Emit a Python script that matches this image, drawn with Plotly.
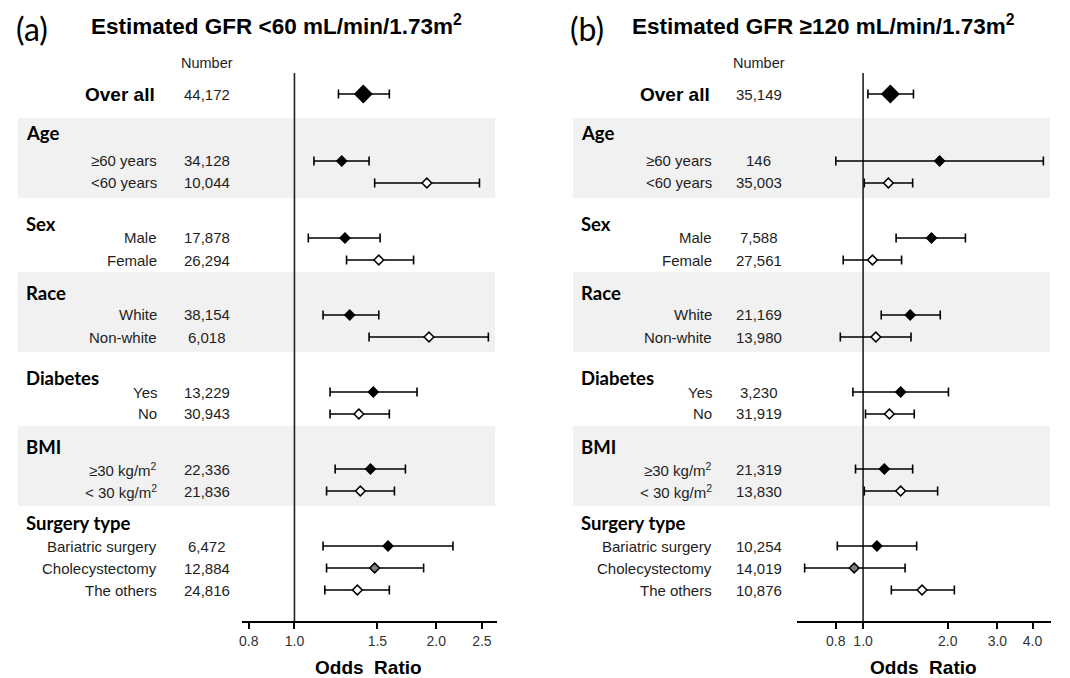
import plotly.graph_objects as go

W, H = 1070, 678

# ---------------- data ----------------
row_labels = ["Over all", "≥60 years", "<60 years", "Male", "Female", "White", "Non-white",
              "Yes", "No", "≥30 kg/m<sup>2</sup>", "< 30 kg/m<sup>2</sup>",
              "Bariatric surgery", "Cholecystectomy", "The others"]
group_names = ["Age", "Sex", "Race", "Diabetes", "BMI", "Surgery type"]
group_sizes = [2, 2, 2, 2, 2, 3]

n_a = ["44,172", "34,128", "10,044", "17,878", "26,294", "38,154", "6,018",
       "13,229", "30,943", "22,336", "21,836", "6,472", "12,884", "24,816"]
or_a = [1.40, 1.26, 1.91, 1.28, 1.51, 1.31, 1.93, 1.47, 1.37, 1.45, 1.38, 1.58, 1.48, 1.36]
lo_a = [1.24, 1.10, 1.48, 1.07, 1.29, 1.15, 1.44, 1.19, 1.19, 1.22, 1.17, 1.15, 1.17, 1.16]
hi_a = [1.59, 1.44, 2.47, 1.52, 1.79, 1.51, 2.58, 1.82, 1.59, 1.72, 1.63, 2.17, 1.88, 1.59]

n_b = ["35,149", "146", "35,003", "7,588", "27,561", "21,169", "13,980",
       "3,230", "31,919", "21,319", "13,830", "10,254", "14,019", "10,876"]
or_b = [1.25, 1.87, 1.23, 1.75, 1.08, 1.47, 1.11, 1.36, 1.24, 1.19, 1.36, 1.12, 0.93, 1.62]
lo_b = [1.04, 0.80, 1.01, 1.31, 0.85, 1.16, 0.83, 0.92, 1.02, 0.94, 1.01, 0.81, 0.62, 1.26]
hi_b = [1.51, 4.37, 1.50, 2.31, 1.37, 1.88, 1.48, 2.01, 1.52, 1.50, 1.84, 1.55, 1.41, 2.11]

ticks_a = [0.8, 1.0, 1.5, 2.0, 2.5]
ticks_b = [0.8, 1.0, 2.0, 3.0, 4.0]
tick_text_a = ["0.8", "1.0", "1.5", "2.0", "2.5"]
tick_text_b = ["0.8", "1.0", "2.0", "3.0", "4.0"]

titles = ["Estimated GFR <60 mL/min/1.73m<sup>2</sup>", "Estimated GFR ≥120 mL/min/1.73m<sup>2</sup>"]
panel_tags = ["(a)", "(b)"]

# ---------------- layout (pixel geometry) ----------------
OVERALL_Y = 94
FIRST_ITEM_Y = 161
ITEM_STEP = 22
GROUP_GAP = 55
HEADER_OFFSETS = [28, 14, 22, 14, 22, 23]
Y_TOP, Y_AXIS = 73, 621

row_y = [OVERALL_Y]
header_y = []
group_spans = []
y = FIRST_ITEM_Y
for gi, size in enumerate(group_sizes):
    header_y.append(y - HEADER_OFFSETS[gi])
    first = y
    for k in range(size):
        row_y.append(y)
        if k < size - 1:
            y += ITEM_STEP
    group_spans.append((first, y))
    y += GROUP_GAP

fills = ["black"]
for size in group_sizes:
    if size == 2:
        fills += ["black", "white"]
    else:
        fills += ["black", "#7f7f7f", "white"]
sizes = [13] + [7.5] * (len(row_labels) - 1)

panels = [
    dict(n=n_a, orv=or_a, lo=lo_a, hi=hi_a, ticks=ticks_a, ttext=tick_text_a,
         ax_px=(240, 496), one_px=293, per_dec=472, label_right=157, num_c=205,
         header_x=22, band_x=(16, 494), tag_x=12, title_x=87, or_label_x=367),
    dict(n=n_b, orv=or_b, lo=lo_b, hi=hi_b, ticks=ticks_b, ttext=tick_text_b,
         ax_px=(796, 1051), one_px=862.7, per_dec=282, label_right=713, num_c=758,
         header_x=578, band_x=(572, 1050), tag_x=567, title_x=629, or_label_x=923),
]

def px(xp):
    return xp / W

def py(yp):
    return 1 - yp / H

fig = go.Figure()
shapes = []
annotations = []

TXT = "#1e1e1e"
REG = "Liberation Sans, Arial, sans-serif"
HEAD = "Lato, Liberation Sans, sans-serif"

for i, p in enumerate(panels):
    sfx = "" if i == 0 else "2"
    xa, ya = "x" + sfx, "y" + sfx
    fig.add_trace(go.Scatter(
        x=p["orv"], y=row_y, mode="markers", xaxis=xa, yaxis=ya,
        marker=dict(symbol="diamond", size=sizes, color=fills,
                    line=dict(color="black", width=1.5), opacity=1),
        error_x=dict(type="data", symmetric=False,
                     array=[h - o for h, o in zip(p["hi"], p["orv"])],
                     arrayminus=[o - l for o, l in zip(p["orv"], p["lo"])],
                     color="black", thickness=1.6, width=4.5),
        showlegend=False, hoverinfo="skip", cliponaxis=False,
    ))
    l_px, r_px = p["ax_px"]
    rng = [(l_px - p["one_px"]) / p["per_dec"], (r_px - p["one_px"]) / p["per_dec"]]
    xaxis = dict(type="log", range=rng, domain=[px(l_px), px(r_px)], anchor=ya,
                 showgrid=False, zeroline=False, showline=True, linecolor="black",
                 linewidth=2, ticks="outside", ticklen=6, tickwidth=1.5, tickcolor="black",
                 tickvals=p["ticks"], ticktext=p["ttext"],
                 tickfont=dict(family=REG, size=14, color="#333333"), fixedrange=True)
    yaxis = dict(range=[Y_AXIS, Y_TOP], domain=[py(Y_AXIS), py(Y_TOP)], anchor=xa,
                 visible=False, fixedrange=True)
    fig.update_layout(**{"xaxis" + sfx: xaxis, "yaxis" + sfx: yaxis})

    for gi, (y0, y1) in enumerate(group_spans):
        if gi % 2 == 0:
            shapes.append(dict(type="rect", xref="paper", yref="paper",
                               x0=px(p["band_x"][0]), x1=px(p["band_x"][1]),
                               y0=py(y0 - 43), y1=py(y1 + 15),
                               fillcolor="#f1f1f1", line=dict(width=0), layer="below"))
    shapes.append(dict(type="line", xref=xa, yref=ya, x0=1, x1=1, y0=Y_TOP, y1=Y_AXIS,
                       line=dict(color="#222222", width=1.6), layer="below"))

    annotations.append(dict(text=panel_tags[i], xref="paper", yref="paper",
                            x=px(p["tag_x"]), y=py(29), xanchor="left", yanchor="middle",
                            showarrow=False, font=dict(family=HEAD, size=32, color="black")))
    annotations.append(dict(text="<b>" + titles[i] + "</b>", xref="paper", yref="paper",
                            x=px(p["title_x"]), y=py(25), xanchor="left", yanchor="middle",
                            showarrow=False, font=dict(family=REG, size=22.5, color="black")))
    annotations.append(dict(text="Number", xref="paper", yref="paper",
                            x=px(p["num_c"]), y=py(63), xanchor="center", yanchor="middle",
                            showarrow=False, font=dict(family=REG, size=14.5, color=TXT)))
    for r, (lab, yy) in enumerate(zip(row_labels, row_y)):
        if r == 0:
            annotations.append(dict(text="<b>" + lab + "</b>", xref="paper", yref="paper",
                                    x=px(p["label_right"] - 2), y=py(yy), xanchor="right",
                                    yanchor="middle", showarrow=False,
                                    font=dict(family=REG, size=19, color="black")))
        else:
            annotations.append(dict(text=lab, xref="paper", yref="paper",
                                    x=px(p["label_right"]), y=py(yy), xanchor="right",
                                    yanchor="middle", showarrow=False,
                                    font=dict(family=REG, size=15, color=TXT)))
        annotations.append(dict(text=p["n"][r], xref="paper", yref="paper",
                                x=px(p["num_c"]), y=py(yy), xanchor="center",
                                yanchor="middle", showarrow=False,
                                font=dict(family=REG, size=15, color=TXT)))
    for gname, hy in zip(group_names, header_y):
        annotations.append(dict(text="<b>" + gname + "</b>", xref="paper", yref="paper",
                                x=px(p["header_x"]), y=py(hy), xanchor="left",
                                yanchor="middle", showarrow=False,
                                font=dict(family=HEAD, size=18.5, color="black")))
    annotations.append(dict(text="<b>Odds  Ratio</b>", xref="paper", yref="paper",
                            x=px(p["or_label_x"]), y=py(667), xanchor="center",
                            yanchor="middle", showarrow=False,
                            font=dict(family=REG, size=19, color="black")))

fig.update_layout(width=W, height=H, margin=dict(l=0, r=0, t=0, b=0),
                  paper_bgcolor="white", plot_bgcolor="rgba(0,0,0,0)",
                  shapes=shapes, annotations=annotations)

fig.write_html("out.html", config={"displayModeBar": False},
               post_script="document.body.style.margin='0';document.body.style.padding='0';")
